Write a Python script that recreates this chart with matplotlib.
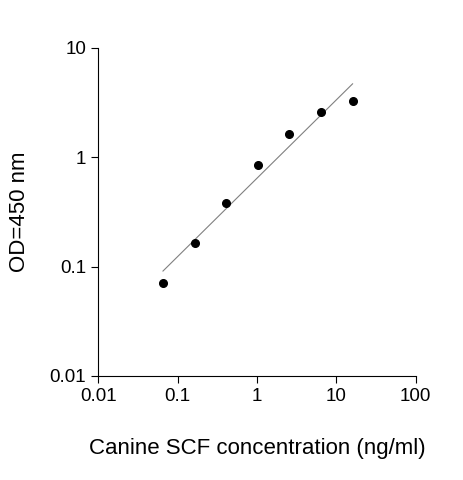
import matplotlib
matplotlib.use("Agg")
import matplotlib.pyplot as plt
from matplotlib.ticker import FixedLocator, FixedFormatter, NullLocator

plt.rcParams['font.family'] = ['Liberation Sans', 'DejaVu Sans']

conc = [0.065536, 0.16384, 0.4096, 1.024, 2.56, 6.4, 16]
od = [0.07, 0.165, 0.38, 0.85, 1.65, 2.6, 3.3]
fit_x = [0.065536, 16]
fit_y = [0.091, 4.7]
xticks = [0.01, 0.1, 1, 10, 100]
xlabels = ['0.01', '0.1', '1', '10', '100']
yticks = [0.01, 0.1, 1, 10]
ylabels = ['0.01', '0.1', '1', '10']

fig = plt.figure(figsize=(4.63, 4.8), dpi=100)
ax = fig.add_axes([0.212, 0.217, 0.686, 0.683])
ax.plot(fit_x, fit_y, color='#808080', lw=0.8)
ax.plot(conc, od, 'o', color='black', ms=5.5)
ax.set_xscale('log')
ax.set_yscale('log')
ax.set_xlim(0.01, 100)
ax.set_ylim(0.01, 10)
ax.xaxis.set_major_locator(FixedLocator(xticks))
ax.xaxis.set_major_formatter(FixedFormatter(xlabels))
ax.yaxis.set_major_locator(FixedLocator(yticks))
ax.yaxis.set_major_formatter(FixedFormatter(ylabels))
ax.xaxis.set_minor_locator(NullLocator())
ax.yaxis.set_minor_locator(NullLocator())
for s in ['top', 'right']:
    ax.spines[s].set_visible(False)
ax.tick_params(direction='out', length=5, labelsize=13.5)
ax.set_xlabel('Canine SCF concentration (ng/ml)', fontsize=16, labelpad=24)
ax.set_ylabel('OD=450 nm', fontsize=16, labelpad=14)
fig.savefig('out.png', dpi=100)
